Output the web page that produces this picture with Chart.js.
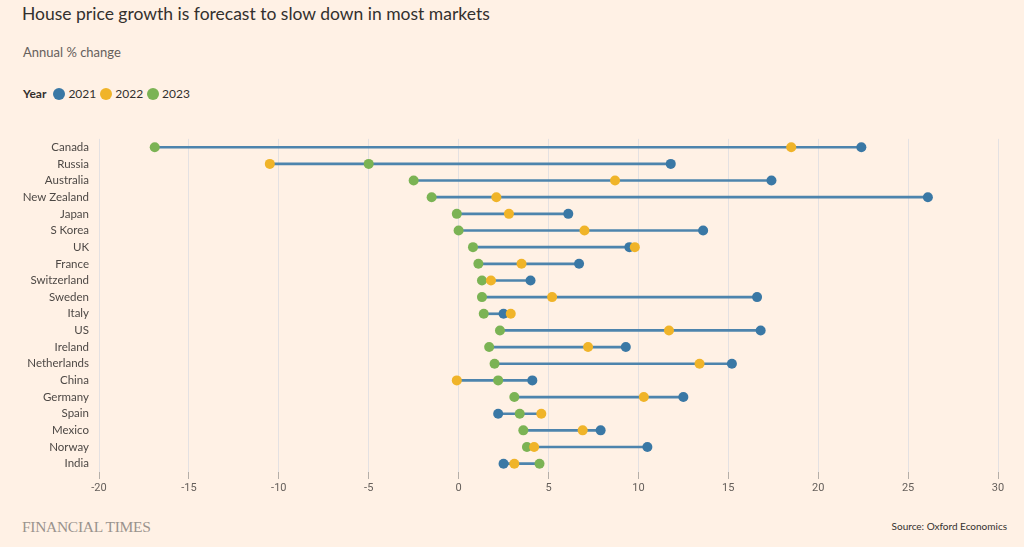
<!DOCTYPE html>
<html>
<head>
<meta charset="utf-8">
<script src="https://cdn.jsdelivr.net/npm/chart.js@4.4.0/dist/chart.umd.min.js"></script>
<style>
  body { margin: 0; background: #fff1e5; width: 1024px; height: 547px; overflow: hidden; position: relative; font-family: Lato, "Open Sans", sans-serif; }
  .title { position: absolute; left: 22px; top: 3px; font-size: 17.5px; color: #33302e; }
  .subtitle { position: absolute; left: 23px; top: 44px; font-size: 13px; color: #66605c; }
  .legend { position: absolute; left: 23px; top: 86px; font-size: 12px; color: #33302e; display: flex; align-items: center; }
  .legend b { margin-right: 5px; }
  .legend .dot { width: 12px; height: 12px; border-radius: 50%; display: inline-block; margin: 0 3px 0 2px; }
  .legend span.lbl { margin-right: 2px; }
  .chart-box { position: absolute; left: 0; top: 130px; width: 1024px; height: 380px; }
  .ft { position: absolute; left: 22px; top: 518px; font-family: "Liberation Serif", serif; font-size: 15.5px; color: #9a938d; letter-spacing: -0.3px; }
  .source { position: absolute; right: 17px; top: 520px; font-size: 10px; color: #33302e; }
</style>
</head>
<body>
<div class="title">House price growth is forecast to slow down in most markets</div>
<div class="subtitle">Annual % change</div>
<div class="legend">
  <b>Year</b>
  <span class="dot" style="background:#3a78a5"></span><span class="lbl">2021</span>
  <span class="dot" style="background:#f0b429"></span><span class="lbl">2022</span>
  <span class="dot" style="background:#7bb354"></span><span class="lbl">2023</span>
</div>
<div class="chart-box"><canvas id="dumbbell"></canvas></div>
<div class="ft">FINANCIAL TIMES</div>
<div class="source">Source: Oxford Economics</div>

<script>
// 국가 목록 (위에서 아래 순서)
const countries = ['Canada', 'Russia', 'Australia', 'New Zealand', 'Japan', 'S Korea', 'UK', 'France',
    'Switzerland', 'Sweden', 'Italy', 'US', 'Ireland', 'Netherlands', 'China', 'Germany', 'Spain',
    'Mexico', 'Norway', 'India'];

// 연도별 연간 변화율 (%)
const values2021 = [22.4, 11.8, 17.4, 26.1, 6.1, 13.6, 9.5, 6.7, 4.0, 16.6, 2.5, 16.8, 9.3, 15.2, 4.1, 12.5, 2.2, 7.9, 10.5, 2.5];
const values2022 = [18.5, -10.5, 8.7, 2.1, 2.8, 7.0, 9.8, 3.5, 1.8, 5.2, 2.9, 11.7, 7.2, 13.4, -0.1, 10.3, 4.6, 6.9, 4.2, 3.1];
const values2023 = [-16.9, -5.0, -2.5, -1.5, -0.1, 0.0, 0.8, 1.1, 1.3, 1.3, 1.4, 2.3, 1.7, 2.0, 2.2, 3.1, 3.4, 3.6, 3.8, 4.5];

const xTicks = [-20, -15, -10, -5, 0, 5, 10, 15, 20, 25, 30];

const colors = { y2021: '#3a78a5', y2022: '#f0b429', y2023: '#7bb354', line: '#4d84ad' };

// 최소~최대 구간 (연결선)
const ranges = countries.map(function(c, i) {
    const v = [values2021[i], values2022[i], values2023[i]];
    return [Math.min.apply(null, v), Math.max.apply(null, v)];
});

function dotSet(label, data, color, order) {
    return {
        type: 'line',
        label: label,
        data: data,
        showLine: false,
        pointRadius: 5,
        pointHoverRadius: 5,
        pointBorderWidth: 0,
        pointBackgroundColor: color,
        backgroundColor: color,
        order: order
    };
}

new Chart(document.getElementById('dumbbell'), {
    type: 'bar',
    data: {
        labels: countries,
        datasets: [
            {
                label: 'range',
                data: ranges,
                backgroundColor: colors.line,
                barThickness: 2,
                borderSkipped: false,
                order: 4
            },
            dotSet('2021', values2021, colors.y2021, 3),
            dotSet('2023', values2023, colors.y2023, 2),
            dotSet('2022', values2022, colors.y2022, 1)
        ]
    },
    options: {
        indexAxis: 'y',
        responsive: true,
        maintainAspectRatio: false,
        animation: false,
        layout: { padding: { top: 0, right: 26, left: 0, bottom: 0 } },
        plugins: {
            legend: { display: false },
            tooltip: { enabled: false }
        },
        scales: {
            x: {
                type: 'linear',
                min: -20,
                max: 30,
                afterBuildTicks: function(scale) {
                    scale.ticks = xTicks.map(function(v) { return { value: v }; });
                },
                afterFit: function(scale) { scale.height = 38; },
                grid: {
                    color: 'rgba(205,212,224,0.55)',
                    lineWidth: 1,
                    tickColor: '#b5afa9',
                    tickLength: 7
                },
                border: { display: false },
                ticks: {
                    color: '#66605c',
                    font: { family: 'Roboto', size: 11 },
                    padding: 3,
                    maxRotation: 0
                }
            },
            y: {
                type: 'category',
                afterFit: function(scale) { scale.width = 99; },
                grid: { display: false },
                border: { display: false },
                ticks: {
                    color: '#4d4845',
                    font: { family: 'Lato', size: 11.5 },
                    padding: 2,
                    autoSkip: false
                }
            }
        }
    }
});
</script>
</body>
</html>
